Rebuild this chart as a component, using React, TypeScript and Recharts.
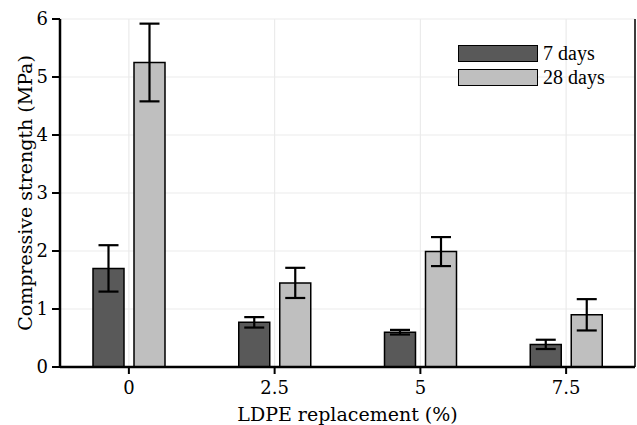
import React from 'react';
import { BarChart, Bar, XAxis, YAxis, CartesianGrid, ErrorBar } from 'recharts';

const categories = ['0', '2.5', '5', '7.5'];
const days7 = [1.7, 0.77, 0.6, 0.39];
const days7Err = [0.4, 0.09, 0.04, 0.08];
const days28 = [5.25, 1.45, 1.99, 0.9];
const days28Err = [0.67, 0.26, 0.25, 0.27];
const yTicks = [0, 1, 2, 3, 4, 5, 6];

const series = [
  { key: 'd7', name: '7 days', fill: '#595959' },
  { key: 'd28', name: '28 days', fill: '#bfbfbf' },
];

const data = categories.map((c, i) => ({
  cat: c,
  d7: days7[i],
  d7Err: days7Err[i],
  d28: days28[i],
  d28Err: days28Err[i],
}));

const svgFont = "'DejaVu Serif', serif";
const htmlFont = "'Liberation Serif', serif";

const XTick = ({ x, y, payload }: any) => (
  <text x={x} y={y + 18} textAnchor="middle" style={{ fontFamily: svgFont }} fontSize={18} fill="#000">
    {payload.value}
  </text>
);

const YTick = ({ x, y, payload }: any) => (
  <text x={x} y={y + 6} textAnchor="end" style={{ fontFamily: svgFont }} fontSize={18} fill="#000">
    {payload.value}
  </text>
);

const YTitle = ({ viewBox }: any) => {
  const cx = 25;
  const cy = viewBox.y + viewBox.height / 2;
  return (
    <text
      x={cx}
      y={cy}
      transform={`rotate(-90 ${cx} ${cy})`}
      textAnchor="middle"
      dominantBaseline="central"
      style={{ fontFamily: svgFont }}
      fontSize={19}
      fill="#000"
    >
      Compressive strength (MPa)
    </text>
  );
};

const XTitle = ({ viewBox }: any) => (
  <text
    x={viewBox.x + viewBox.width / 2}
    y={421}
    textAnchor="middle"
    style={{ fontFamily: svgFont }}
    fontSize={19}
    fill="#000"
  >
    LDPE replacement (%)
  </text>
);

// legend drawn as an overlay so it doesn't eat into the plot area
const LegendBox = () => (
  <div
    style={{
      position: 'absolute',
      top: 41,
      left: 458,
      fontFamily: htmlFont,
      fontSize: 20,
      color: '#000',
    }}
  >
    {series.map((s) => (
      <div key={s.key} style={{ display: 'flex', alignItems: 'center', height: 24 }}>
        <div
          style={{
            width: 78,
            height: 15,
            background: s.fill,
            border: '1.5px solid #000',
            marginRight: 5,
          }}
        />
        <span style={{ lineHeight: '20px' }}>{s.name}</span>
      </div>
    ))}
  </div>
);

export default function App() {
  return (
    <div style={{ position: 'absolute', left: 0, top: 0, background: '#fff' }}>
      <BarChart
        width={637}
        height={425}
        data={data}
        margin={{ top: 19, right: 1, bottom: 0, left: 0 }}
        barSize={31}
        barGap={10}
      >
        <CartesianGrid stroke="#ebebeb" strokeWidth={1.2} />
        <XAxis
          dataKey="cat"
          height={58}
          padding={{ left: -4, right: -4 }}
          axisLine={{ stroke: '#000', strokeWidth: 2.5 }}
          tickLine={{ stroke: '#000', strokeWidth: 2 }}
          tickSize={7}
          tick={<XTick />}
          label={<XTitle />}
        />
        <XAxis
          xAxisId="top"
          dataKey="cat"
          orientation="top"
          height={0}
          padding={{ left: -4, right: -4 }}
          axisLine={{ stroke: '#000', strokeWidth: 2.5 }}
          tickLine={{ stroke: '#000', strokeWidth: 2 }}
          tickSize={7}
          tick={false}
        />
        <YAxis
          width={60}
          domain={[0, 6]}
          ticks={yTicks}
          interval={0}
          axisLine={{ stroke: '#000', strokeWidth: 2.5 }}
          tickLine={{ stroke: '#000', strokeWidth: 2 }}
          tickSize={8}
          tickMargin={4}
          tick={<YTick />}
          label={<YTitle />}
        />
        <YAxis
          yAxisId="right"
          orientation="right"
          width={1}
          domain={[0, 6]}
          ticks={yTicks}
          axisLine={{ stroke: '#000', strokeWidth: 1.5 }}
          tickLine={false}
          tick={false}
        />
        {series.map((s) => (
          <Bar
            key={s.key}
            dataKey={s.key}
            name={s.name}
            fill={s.fill}
            stroke="#000"
            strokeWidth={1.5}
            isAnimationActive={false}
          >
            <ErrorBar dataKey={`${s.key}Err`} width={10} stroke="#000" strokeWidth={2.2} />
          </Bar>
        ))}
      </BarChart>
      <LegendBox />
    </div>
  );
}
